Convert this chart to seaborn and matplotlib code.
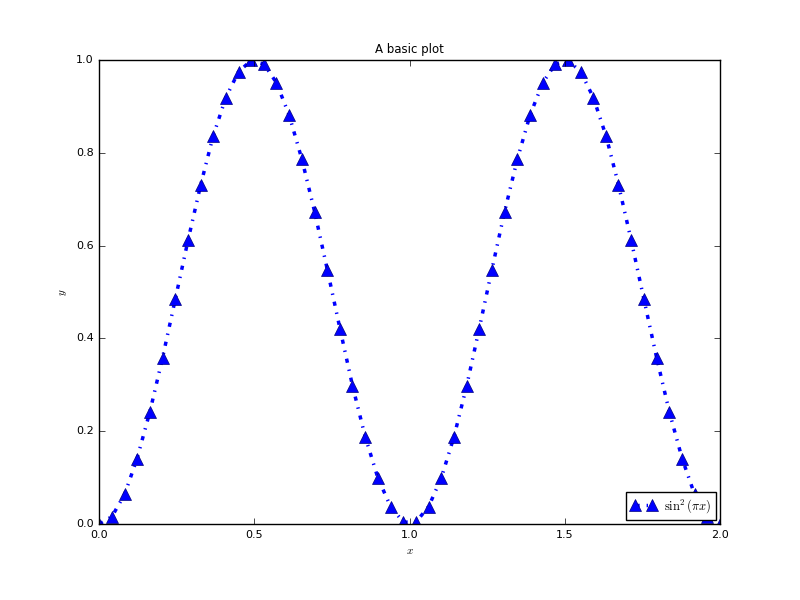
"""
A basic plot: sin^2(pi x) sampled on 50 points, classic matplotlib look
"""

import matplotlib
matplotlib.use("Agg")
import matplotlib.pyplot as plt
import seaborn as sns

# sample positions (50 evenly spaced points between 0 and 2)
x_vals = [0.000, 0.041, 0.082, 0.122, 0.163, 0.204, 0.245, 0.286, 0.327, 0.367,
          0.408, 0.449, 0.490, 0.531, 0.571, 0.612, 0.653, 0.694, 0.735, 0.776,
          0.816, 0.857, 0.898, 0.939, 0.980, 1.020, 1.061, 1.102, 1.143, 1.184,
          1.224, 1.265, 1.306, 1.347, 1.388, 1.429, 1.469, 1.510, 1.551, 1.592,
          1.633, 1.673, 1.714, 1.755, 1.796, 1.837, 1.878, 1.918, 1.959, 2.000]

# values
y_vals = [0.000, 0.016, 0.064, 0.141, 0.241, 0.358, 0.484, 0.611, 0.731, 0.836,
          0.919, 0.975, 0.999, 0.991, 0.951, 0.881, 0.786, 0.673, 0.548, 0.420,
          0.298, 0.188, 0.099, 0.037, 0.004, 0.004, 0.037, 0.099, 0.188, 0.298,
          0.420, 0.548, 0.673, 0.786, 0.881, 0.951, 0.991, 0.999, 0.975, 0.919,
          0.836, 0.731, 0.611, 0.484, 0.358, 0.241, 0.141, 0.064, 0.016, 0.000]

series_label = r"$\sin^2(\pi x)$"

plt.style.use("classic")
plt.rcParams["mathtext.fontset"] = "cm"
plt.rcParams["font.size"] = 8
plt.rcParams["xtick.major.size"] = 4
plt.rcParams["ytick.major.size"] = 4

fig = plt.figure(figsize=(8, 6), dpi=100, facecolor="white")
ax = fig.add_axes([0.124, 0.1267, 0.776, 0.7733])

sns.lineplot(
    x=x_vals,
    y=y_vals,
    ax=ax,
    color="blue",
    linestyle="-.",
    linewidth=2.5,
    marker="^",
    markersize=8,
    markeredgecolor="#000080",
    markeredgewidth=0.5,
    label=series_label,
)

ax.set_xlim(0, 2)
ax.set_ylim(0, 1)
ax.set_title("A basic plot", fontsize=8.5)
ax.set_xlabel(r"$x$", fontsize=8)
ax.set_ylabel(r"$y$", fontsize=8)
ax.legend(loc="lower right", numpoints=2, prop={"size": 9},
          handlelength=2.0, handletextpad=0.6, borderaxespad=0.3)

fig.savefig("out.png", dpi=100, facecolor="white")
